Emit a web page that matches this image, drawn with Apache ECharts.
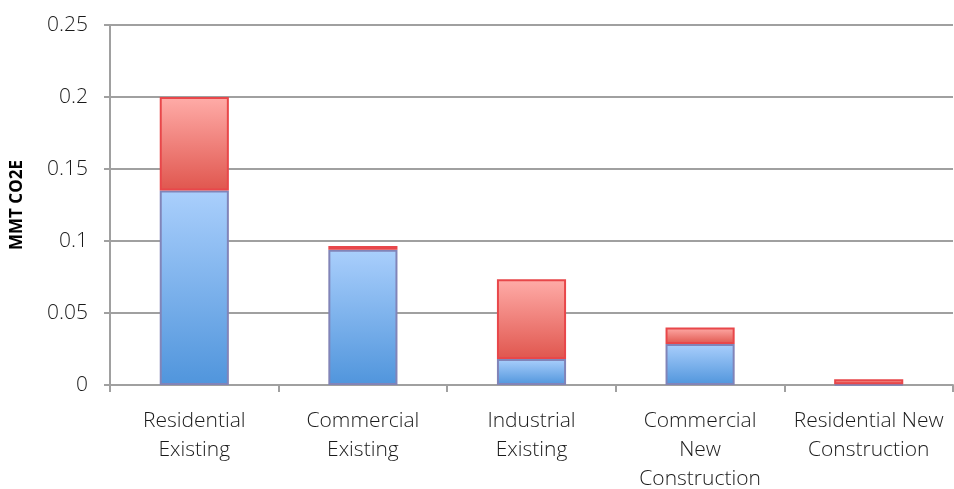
<!DOCTYPE html>
<html>
<head>
<meta charset="utf-8">
<script src="https://cdn.jsdelivr.net/npm/echarts@6/dist/echarts.min.js"></script>
<style>
  html, body { margin: 0; padding: 0; background: #fff; }
  #chart { width: 954px; height: 489px; }
</style>
</head>
<body>
<div id="chart"></div>
<script>
// Sector categories (line breaks set the wrapped label layout)
const categories = [
  'Residential\nExisting',
  'Commercial\nExisting',
  'Industrial\nExisting',
  'Commercial\nNew\nConstruction',
  'Residential New\nConstruction'
];
// Lower (blue) and upper (red) stacked segments, MMT CO2E
const blueValues = [0.135, 0.094, 0.018, 0.0285, 0.0005];
const redValues = [0.065, 0.0025, 0.0555, 0.0115, 0.0035];
const yTicks = [0, 0.05, 0.1, 0.15, 0.2, 0.25];

const fontFamily = '"Open Sans", "Noto Sans", sans-serif';

const blueFill = new echarts.graphic.LinearGradient(0, 0, 0, 1, [
  { offset: 0, color: '#aacffc' },
  { offset: 1, color: '#5095dc' }
]);
const redFill = new echarts.graphic.LinearGradient(0, 0, 0, 1, [
  { offset: 0, color: '#ffaca8' },
  { offset: 1, color: '#e0564e' }
]);

const chart = echarts.init(document.getElementById('chart'), null, { renderer: 'canvas' });
chart.setOption({
  animation: false,
  grid: { left: 110, right: 1, top: 25, bottom: 104, containLabel: false, outerBoundsMode: 'none' },
  xAxis: {
    type: 'category',
    data: categories,
    axisLine: { lineStyle: { color: '#a0a0a0', width: 2 } },
    axisTick: { show: true, length: 7, lineStyle: { color: '#a0a0a0', width: 2 } },
    axisLabel: {
      color: '#1a1a1a',
      fontFamily: fontFamily,
      fontWeight: 300,
      fontSize: 21,
      lineHeight: 29,
      margin: 22,
      interval: 0
    }
  },
  yAxis: {
    type: 'value',
    min: yTicks[0],
    max: yTicks[yTicks.length - 1],
    interval: 0.05,
    name: 'MMT CO2E',
    nameLocation: 'middle',
    nameGap: 84,
    nameTextStyle: { color: '#000', fontFamily: fontFamily, fontWeight: 'bold', fontSize: 17 },
    axisLine: { show: true, lineStyle: { color: '#a0a0a0', width: 2 } },
    axisTick: { show: true, length: 6, lineStyle: { color: '#a0a0a0', width: 2 } },
    splitLine: { lineStyle: { color: '#a0a0a0', width: 2 } },
    axisLabel: {
      color: '#1a1a1a',
      fontFamily: fontFamily,
      fontWeight: 300,
      fontSize: 21,
      margin: 22,
      formatter: v => String(Number(v.toFixed(2)))
    }
  },
  series: [
    {
      type: 'bar',
      stack: 'total',
      data: blueValues,
      barWidth: '41%',
      itemStyle: { color: blueFill, borderColor: '#8184b8', borderWidth: 2 }
    },
    {
      type: 'bar',
      stack: 'total',
      data: redValues,
      barWidth: '41%',
      itemStyle: { color: redFill, borderColor: '#e8474a', borderWidth: 2 }
    }
  ]
});
</script>
</body>
</html>
